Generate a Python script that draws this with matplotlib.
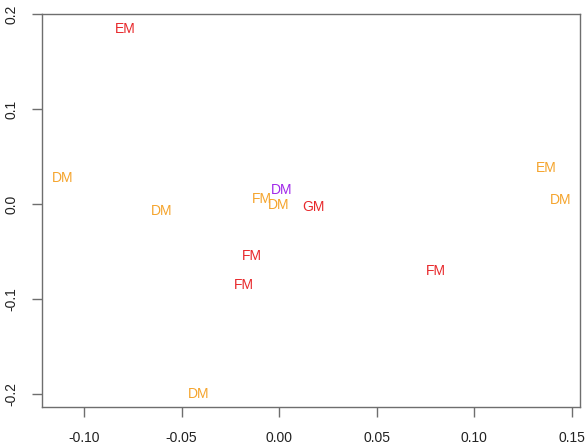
import matplotlib
matplotlib.use("Agg")
import matplotlib.pyplot as plt

plt.rcParams['font.family'] = ['Liberation Sans', 'DejaVu Sans']

# Ordination scores and group labels
labels = ["EM", "DM", "DM", "FM", "DM", "DM", "GM", "EM", "DM", "FM", "FM", "FM", "DM"]
x_vals = [-0.079, -0.111, -0.060, -0.0087, 0.001, -0.0005, 0.0174, 0.137, 0.144,
          -0.0138, -0.018, 0.0805, -0.0415]
y_vals = [0.184, 0.027, -0.007, 0.005, 0.015, -0.001, -0.003, 0.038, 0.004,
          -0.055, -0.085, -0.0705, -0.200]
groups = ["red", "orange", "orange", "orange", "purple", "orange", "red", "orange",
          "orange", "red", "red", "red", "orange"]

palette = {"red": "#E8282B", "orange": "#F5A42C", "purple": "#A128EA"}

x_ticks = [-0.10, -0.05, 0.00, 0.05, 0.10, 0.15]
x_tick_labels = ["-0.10", "-0.05", "0.00", "0.05", "0.10", "0.15"]
y_ticks = [-0.2, -0.1, 0.0, 0.1, 0.2]
y_tick_labels = ["-0.2", "-0.1", "0.0", "0.1", "0.2"]

W, H = 587, 444
fig = plt.figure(figsize=(W / 100, H / 100), dpi=100)
left, right, top, bottom = 42, 580, 14, 407
ax = fig.add_axes([left / W, (H - bottom) / H, (right - left) / W, (bottom - top) / H])

for lab, xv, yv, g in zip(labels, x_vals, y_vals, groups):
    ax.text(xv, yv, lab, color=palette[g], fontsize=10, ha="center", va="center")

ax.set_xlim(-0.1215, 0.1541)
ax.set_ylim(-0.2137, 0.2)
ax.set_xticks(x_ticks)
ax.set_xticklabels(x_tick_labels)
ax.set_yticks(y_ticks)
ax.set_yticklabels(y_tick_labels, rotation=90, va="center")

for s in ax.spines.values():
    s.set_color("#6E6E6E")
    s.set_linewidth(1.0)
ax.tick_params(axis="both", direction="out", length=7, width=1.0, color="#6E6E6E",
               labelsize=10, labelcolor="#222222")
ax.tick_params(axis="x", pad=10)
ax.tick_params(axis="y", pad=10)

fig.savefig("out.png", dpi=100)
